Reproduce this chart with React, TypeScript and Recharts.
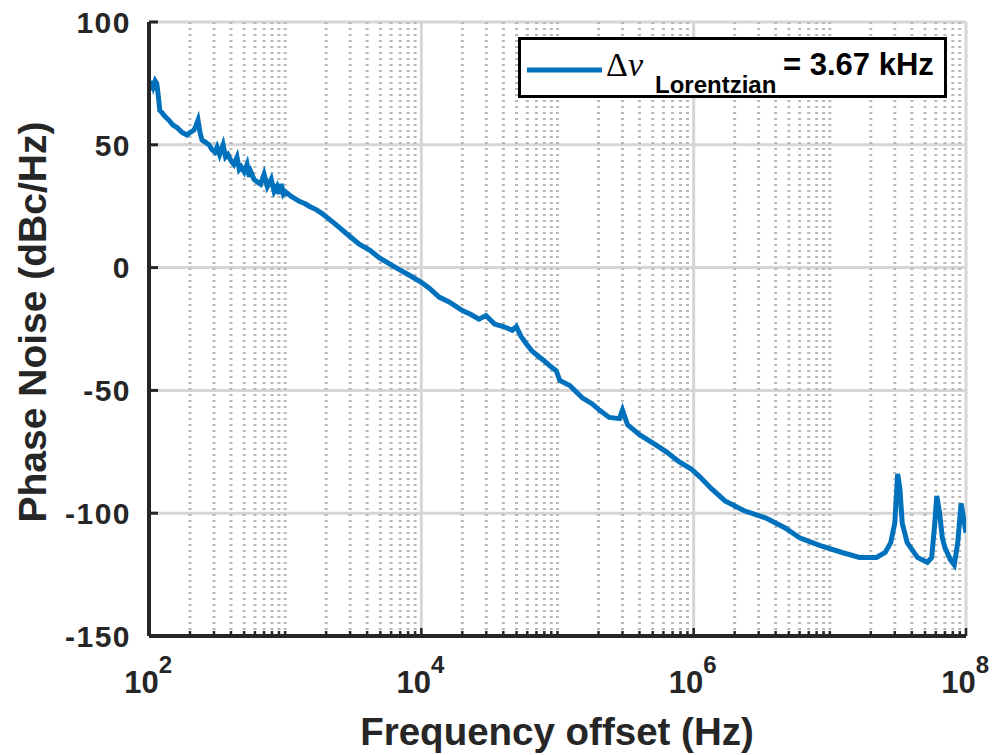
import React from 'react';
import { LineChart, Line, XAxis, YAxis, CartesianGrid, ReferenceLine, Legend } from 'recharts';

// frequency offset (Hz) and phase noise (dBc/Hz)
const freqs = [
  100, 102, 104, 106, 108, 111, 114, 117, 120, 125, 129, 134, 140, 150, 161, 175, 190, 200, 214, 222,
  229, 237, 245, 260, 276, 290, 305, 316, 330, 350, 365, 380, 400, 420, 443, 460, 475, 500, 525, 545,
  560, 590, 620, 660, 700, 740, 790, 830, 870, 900, 935, 970, 1000, 1110, 1270, 1400, 1500, 1700, 1870,
  2300, 2800, 3500, 4200, 4900, 6500, 8100, 10000, 11500, 13500, 16000, 20000, 23000, 26500, 29800,
  34500, 40000, 46500, 49800, 54000, 59000, 65000, 72000, 80000, 90000, 98000, 104000, 123000, 152000,
  180000, 203000, 240000, 285000, 300000, 327000, 400000, 520000, 630000, 780000, 960000, 1100000,
  1350000, 1700000, 2350000, 3400000, 4700000, 6000000, 8300000, 12300000, 16500000, 22000000,
  25500000, 28000000, 30000000, 31500000, 32700000, 34000000, 37000000, 44000000, 52000000, 56000000,
  59000000, 61000000, 64000000, 67000000, 70000000, 77000000, 82000000, 87000000, 92000000, 96000000,
  100000000,
];
const phaseNoise = [
  72, 76, 73, 76, 74, 76, 75, 70, 64, 63, 62, 61, 60, 58, 57, 55, 54, 55, 56, 58,
  60, 55, 52, 51, 50, 48, 47, 49, 46, 50, 45, 46, 43.5, 42, 45, 40, 41, 39, 42, 37,
  39, 36, 35, 34, 38, 33, 36, 31, 33, 30, 34, 30, 31, 29, 27, 26, 25, 23.5, 22,
  18, 14, 9.5, 7, 4, 0, -3, -6, -8.5, -12, -14, -17.5, -19, -21, -19.5,
  -23, -24, -25.5, -24, -28, -31, -34, -36, -38, -40.5, -42, -46, -48, -53,
  -55.5, -58, -61, -61.5, -58, -64, -68, -72, -75, -79, -82, -85,
  -90, -95, -99, -102, -106, -110, -113, -116, -118, -118,
  -116, -112, -104, -84, -90, -104, -112, -118, -120, -118,
  -104, -93, -100, -110, -114, -119, -121, -112, -96, -102,
  -108,
];

const yTicks = [-150, -100, -50, 0, 50, 100];
const majorX = [1e2, 1e4, 1e6, 1e8];
const decades = [2, 3, 4, 5, 6, 7];
const minorX: number[] = [];
decades.forEach((d) => {
  if (d % 2 === 1) minorX.push(Math.pow(10, d));
  for (let m = 2; m <= 9; m++) minorX.push(m * Math.pow(10, d));
});
const xTicks = [...majorX, ...minorX].sort((a, b) => a - b);

const legendLabel = { sym: 'Δ', nu: 'ν', sub: 'Lorentzian', rest: '= 3.67 kHz' };

const data = freqs.map((f, i) => ({ f, pn: phaseNoise[i] }));

const ink = '#262626';
const font = '"Liberation Sans", Arial, sans-serif';

const XTick = (props: any) => {
  const { x, y, payload } = props;
  const exp = Math.round(Math.log10(payload.value));
  const isDecade = Math.abs(Math.log10(payload.value) - exp) < 1e-9;
  const labeled = isDecade && exp % 2 === 0;
  return (
    <g>
      <line x1={x} y1={y} x2={x} y2={y - (labeled ? 8 : 5)} stroke={ink} strokeWidth={2.5} />
      {labeled && (
        <text x={x + 23} y={y + 57} textAnchor="end" fill={ink} fontFamily={font} fontWeight="bold" fontSize={31}>
          10
          <tspan dy={-20} fontSize={24}>{exp}</tspan>
        </text>
      )}
    </g>
  );
};

const YTick = (props: any) => {
  const { x, y, payload } = props;
  return (
    <g>
      <line x1={x} y1={y} x2={x + 9} y2={y} stroke={ink} strokeWidth={3} />
      <text x={x - 18} y={y} dy="0.36em" textAnchor="end" fill={ink} fontFamily={font} fontWeight="bold"
        fontSize={30} letterSpacing={1.5}>
        {payload.value}
      </text>
    </g>
  );
};

const XLabel = () => (
  <text x={557} y={745} textAnchor="middle" fill={ink} fontFamily={font} fontWeight="bold" fontSize={38.5}>
    Frequency offset (Hz)
  </text>
);

const YLabel = () => (
  <text x={46} y={322} transform="rotate(-90 46 322)" textAnchor="middle" fill={ink} fontFamily={font}
    fontWeight="bold" fontSize={39}>
    Phase Noise (dBc/Hz)
  </text>
);

const LegendBox = (props: any) => {
  const color = props.payload && props.payload[0] ? props.payload[0].color : '#0072BD';
  return (
    <svg width={429} height={61} style={{ display: 'block' }}>
      <rect x={1.5} y={1.5} width={426} height={58} fill="#fff" stroke="#000" strokeWidth={3} />
      <line x1={9} y1={33} x2={84} y2={33} stroke={color} strokeWidth={5} />
      <text x={88} y={39} fill="#000" fontFamily='"Liberation Serif", "Times New Roman", serif' fontSize={34}>
        {legendLabel.sym}
        <tspan fontStyle="italic">{legendLabel.nu}</tspan>
      </text>
      <text x={137} y={56} fill="#000" fontFamily={font} fontWeight="bold" fontSize={24}>
        {legendLabel.sub}
      </text>
      <text x={265} y={38} fill="#000" fontFamily={font} fontWeight="bold" fontSize={31}>
        {legendLabel.rest}
      </text>
    </svg>
  );
};

export default function App() {
  return (
    <div style={{ position: 'absolute', left: 0, top: 0, width: 999, height: 755 }}>
      <LineChart width={999} height={755} data={data} margin={{ top: 22, right: 33, bottom: 0, left: 0 }}>
        <CartesianGrid vertical={false} stroke="#d6d6d6" strokeWidth={3} />
        {minorX.map((v) => (
          <ReferenceLine key={'m' + v} x={v} stroke="#b8b8b8" strokeWidth={3} strokeDasharray="2 4" />
        ))}
        {majorX.slice(1).map((v) => (
          <ReferenceLine key={'M' + v} x={v} stroke="#d6d6d6" strokeWidth={3} />
        ))}
        <XAxis
          dataKey="f"
          type="number"
          scale="log"
          domain={[100, 1e8]}
          allowDataOverflow
          ticks={xTicks}
          interval={0}
          tickSize={0}
          tickMargin={0}
          tick={<XTick />}
          height={119}
          axisLine={{ stroke: ink, strokeWidth: 4 }}
          label={<XLabel />}
        />
        <YAxis
          type="number"
          domain={[-150, 100]}
          ticks={yTicks}
          interval={0}
          tickSize={0}
          tickMargin={0}
          tick={<YTick />}
          width={149}
          axisLine={{ stroke: ink, strokeWidth: 4 }}
          label={<YLabel />}
        />
        <Legend
          layout="horizontal"
          verticalAlign="middle"
          align="center"
          content={<LegendBox />}
          wrapperStyle={{ position: 'absolute', left: 518, top: 37, width: 429, height: 61 }}
        />
        <Line
          type="linear"
          dataKey="pn"
          name="Δν Lorentzian = 3.67 kHz"
          stroke="#0072BD"
          strokeWidth={5}
          strokeLinejoin="miter"
          dot={false}
          isAnimationActive={false}
        />
      </LineChart>
    </div>
  );
}
